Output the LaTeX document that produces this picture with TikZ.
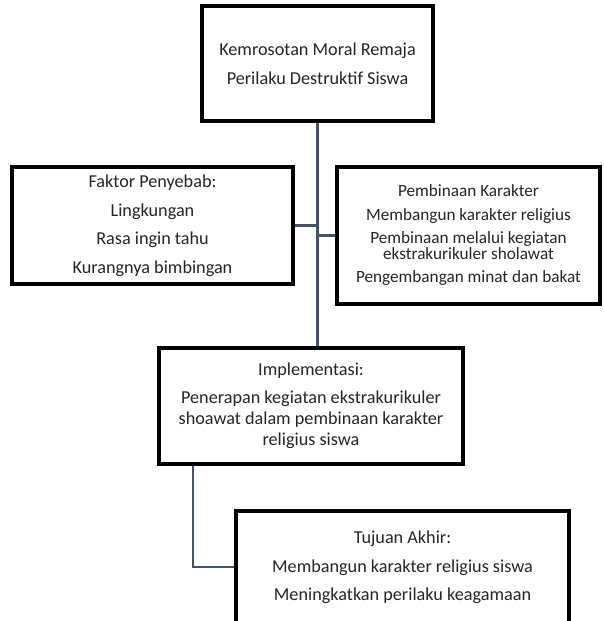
\documentclass[tikz,border=0pt]{standalone}
\usepackage{fontspec}
\setmainfont{Carlito}
\begin{document}
\begin{tikzpicture}[x=1pt,y=-1pt,
  box/.style={draw=black,line width=2.8pt,fill=white,align=center,inner sep=0pt,text=black!85},
  link/.style={draw=linkcol,line width=2.4pt},
  frame/.style={draw=black,line width=2.8pt},
  bigtxt/.style={font=\fontsize{18.2}{28.5}\selectfont},
]
\definecolor{linkcol}{HTML}{44546A}
\clip (0,0) rectangle (603,621);
\fill[white] (0,0) rectangle (603,621);

% boxes
\node[box,bigtxt,minimum width=229pt,minimum height=113pt] (top) at (317.5,63.5)
  {Kemrosotan Moral Remaja\\Perilaku Destruktif Siswa};
\node[box,bigtxt,minimum width=279pt,minimum height=115pt] (cause) at (152.5,225.5)
  {Faktor Penyebab:\\Lingkungan\\Rasa ingin tahu\\Kurangnya bimbingan};
\node[box,font=\fontsize{17.2}{15.5}\selectfont,minimum width=261pt,minimum height=135pt] (build) at (468.5,235.5)
  {Pembinaan Karakter\\[8pt]Membangun karakter religius\\[8pt]Pembinaan melalui kegiatan\\ekstrakurikuler sholawat\\[8pt]Pengembangan minat dan bakat};
\node[box,font=\fontsize{18.2}{21}\selectfont,minimum width=302pt,minimum height=114pt] (impl) at (311,406)
  {Implementasi:\\[7pt]Penerapan kegiatan ekstrakurikuler\\shoawat dalam pembinaan karakter\\religius siswa};
\node[box,minimum width=331pt,minimum height=118pt] (goal) at (402.5,571) {};
\node[bigtxt,align=center,text=black!85,inner sep=0pt] (goaltxt) at (402.5,567.5)
  {Tujuan Akhir:\\Membangun karakter religius siswa\\Meningkatkan perilaku keagamaan};

% connectors
\draw[link] (top.south) -- (top.south |- impl.north);
\draw[link] (cause.east) -- (cause.east -| top.south);
\draw[link] (build.west) -- (build.west -| top.south);
\coordinate (elbow) at (193,567);
\draw[link] (elbow |- impl.south) -- (elbow) -- (elbow -| goal.west);

% redraw borders over connector ends
\draw[frame] (top.south west) rectangle (top.north east);
\draw[frame] (cause.south west) rectangle (cause.north east);
\draw[frame] (build.south west) rectangle (build.north east);
\draw[frame] (impl.south west) rectangle (impl.north east);
\draw[frame] (goal.south west) rectangle (goal.north east);
\end{tikzpicture}
\end{document}
